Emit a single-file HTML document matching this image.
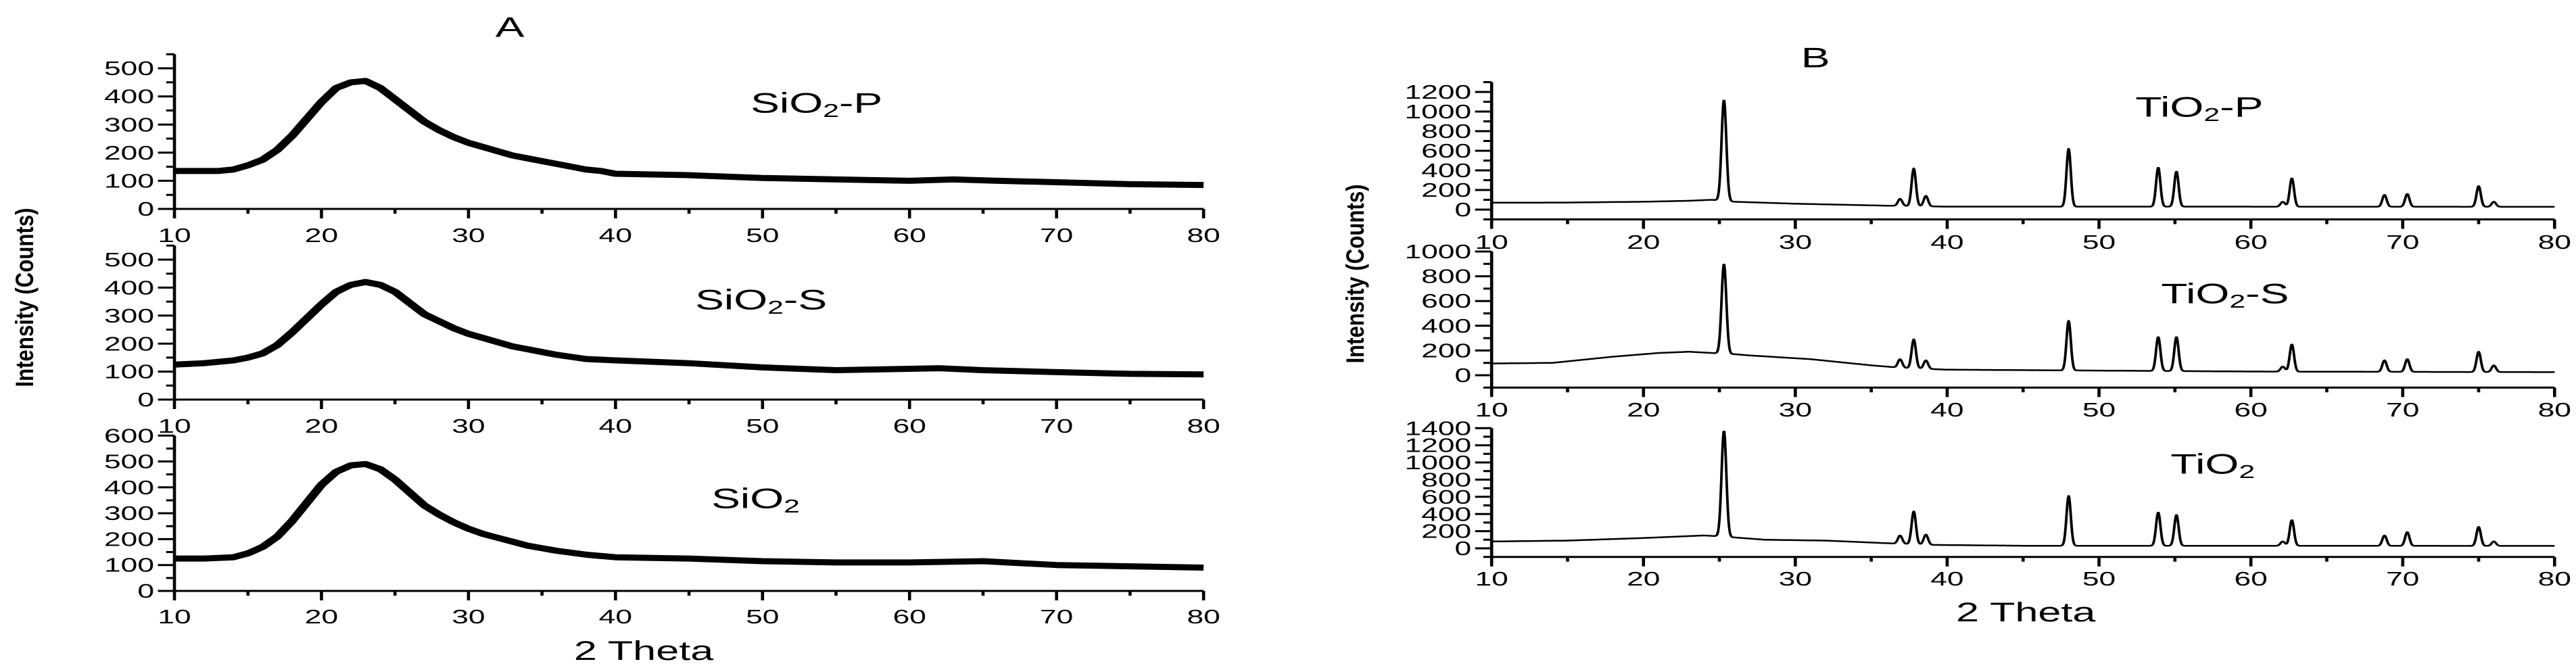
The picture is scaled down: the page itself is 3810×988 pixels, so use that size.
<!DOCTYPE html>
<html><head><meta charset="utf-8"><style>
html,body{margin:0;padding:0;background:#fff;}
svg{display:block;}
text{font-family:"Liberation Sans",Arial,sans-serif;fill:#000;}
</style></head><body>
<svg id="fig" width="3810" height="988" viewBox="0 0 2490 988" preserveAspectRatio="none" xmlns="http://www.w3.org/2000/svg"></svg>
<script>
// ---------- data ----------
var xTicks = [10,20,30,40,50,60,70,80];
var sioP_x = [10,11,12,13,14,15,16,17,18,19,20,21,22,23,24,25,26,27,28,29,30,31,32,33,34,35,36,37,38,39,40,45,50,55,60,63,66,70,75,80];
var sioP_y = [135,135,135,135,140,155,175,210,260,320,380,430,450,455,430,390,350,310,280,255,235,220,205,190,180,170,160,150,140,135,125,120,110,105,100,105,100,95,88,85];
var sioS_x = [10,12,14,15,16,17,18,19,20,21,22,23,24,25,26,27,28,29,30,31,32,33,34,35,36,38,40,45,50,55,60,62,65,70,75,80];
var sioS_y = [125,130,140,150,165,195,240,290,340,385,410,420,410,385,345,305,280,255,235,220,205,190,180,170,160,145,140,130,115,105,110,112,105,98,92,90];
var sio_x = [10,12,14,15,16,17,18,19,20,21,22,23,24,25,26,27,28,29,30,31,32,33,34,35,36,38,40,45,50,55,60,65,70,75,80];
var sio_y = [125,125,130,145,170,210,270,340,410,460,485,490,470,430,380,330,295,265,240,220,205,190,175,165,155,140,130,125,115,110,110,115,100,95,90];

var peakPos = [25.3,36.9,37.8,38.6,48.0,53.9,55.1,62.1,62.7,68.8,70.3,75.0,76.0];
var tioP_peaks = [1120,110,420,140,620,430,390,80,320,150,160,240,80];
var tioS_peaks = [900,130,290,120,440,310,310,70,250,120,130,190,80];
var tio_peaks  = [1370,150,430,160,610,420,390,80,330,150,190,250,80];
var tioP_bx = [10,15,20,23,24.5,26,30,33,36,40,50,60,80];
var tioP_by = [70,72,80,90,100,80,60,50,40,30,30,30,28];
var tioS_bx = [10,14,18,21,23,24.5,26,27,31,35,37,40,47,60,80];
var tioS_by = [95,100,150,180,190,180,170,160,130,80,60,45,40,30,25];
var tio_bx = [10,15,20,24,25,28,32,36,39,45,60,80];
var tio_by = [80,90,120,150,140,100,90,60,40,30,30,28];

// ---------- helpers ----------
var NS="http://www.w3.org/2000/svg", S=1.53;
var svg=document.getElementById('fig');
function el(tag,attrs,parent){var e=document.createElementNS(NS,tag);for(var k in attrs)e.setAttribute(k,attrs[k]);(parent||svg).appendChild(e);return e;}
function interp(xs,ys,x){if(x<=xs[0])return ys[0];for(var i=1;i<xs.length;i++){if(x<=xs[i]){var f=(x-xs[i-1])/(xs[i]-xs[i-1]);return ys[i-1]+f*(ys[i]-ys[i-1]);}}return ys[ys.length-1];}
function merge(a,b){var o={},k;for(k in a)o[k]=a[k];for(k in b)o[k]=b[k];return o;}

function panel(name,cfg){
  var g=el('g',{});
  
  
  function X(v){return (cfg.x0+(v-10)/70*(cfg.x1-cfg.x0))/S;}
  function Y(v){return cfg.zero-v*cfg.ppu;}
  var yBot=Y(cfg.ymin), yTop=Y(cfg.ymax);
  var ax=el('path',{d:'M'+(cfg.x0/S)+','+yTop+' V'+yBot+' H'+(cfg.x1/S),stroke:'#000','stroke-width':3,fill:'none'},g);
  
  
  var d='',v;
  for(v=10;v<=80;v+=5){var big=v%10===0;d+='M'+X(v)+','+yBot+' V'+(yBot+(big?14:7))+' ';}
  for(v=Math.ceil(cfg.ymin/cfg.minor)*cfg.minor;v<=cfg.ymax+1e-6;v+=cfg.minor){var bg=(v%cfg.major===0&&v>=0);d+='M'+(cfg.x0/S)+','+Y(v)+' H'+(cfg.x0/S-(bg?16:8))+' ';}
  var tk=el('path',{d:d,stroke:'#000','stroke-width':3,fill:'none'},g);
  
  
  xTicks.forEach(function(v){
    var t=el('text',{x:X(v),y:cfg.xlab,'font-size':29,'text-anchor':'middle','dominant-baseline':'central'},g);
    
    
    t.textContent=String(v);
  });
  for(v=0;v<=cfg.ymax+1e-6;v+=cfg.major){
    var t=el('text',{x:(cfg.x0-30)/S,y:Y(v),'font-size':29,'text-anchor':'end','dominant-baseline':'central'},g);
    
    
    t.textContent=String(v);
  }
  var pts=[];
  if(cfg.sx){for(var i=0;i<cfg.sx.length;i++)pts.push(X(cfg.sx[i])+','+Y(cfg.sy[i]));}
  else{
    for(var x=10;x<=80.0001;x+=0.04){var y=interp(cfg.bx,cfg.by,x);
      for(var j=0;j<peakPos.length;j++){var p=peakPos[j];var h=cfg.peaks[j]-interp(cfg.bx,cfg.by,p);var w=p<26?0.22:0.2;var z=(x-p)/w;y+=h*Math.exp(-z*z);}
      pts.push(X(x).toFixed(2)+','+Y(y).toFixed(1));}
  }
  var ln=el('polyline',{points:pts.join(' '),fill:'none',stroke:'#000','stroke-width':cfg.sw,'stroke-linejoin':'round'},g);
  
  
  var lb=el('text',{x:cfg.lx/S,y:cfg.ly,'font-size':42,'dominant-baseline':'central'},g);
  
  
  lb.appendChild(document.createTextNode(cfg.label[0]+'O'));
  var s1=el('tspan',{'font-size':28,dy:11},lb); s1.textContent='2';
  var s2=el('tspan',{dy:-11},lb); s2.textContent=cfg.label[1]||'\u200B';
}

var A={x0:258,x1:1780,sw:9,minor:50,major:100};
panel('panel-a-sio2-p',merge(A,{zero:309,ppu:0.416,ymin:0,ymax:550,xlab:348,sx:sioP_x,sy:sioP_y,lx:1110,ly:152,label:['Si','-P']}));
panel('panel-a-sio2-s',merge(A,{zero:591,ppu:0.414,ymin:0,ymax:550,xlab:630,sx:sioS_x,sy:sioS_y,lx:1028,ly:443,label:['Si','-S']}));
panel('panel-a-sio2',merge(A,{zero:874,ppu:0.383,ymin:0,ymax:600,xlab:912,sx:sio_x,sy:sio_y,lx:1052,ly:737,label:['Si','']}));
var B={x0:2206,x1:3778,sw:2.5,minor:100,major:200};
panel('panel-b-tio2-p',merge(B,{zero:310,ppu:0.145,ymin:-100,ymax:1300,xlab:358,bx:tioP_bx,by:tioP_by,peaks:tioP_peaks,lx:3158,ly:158,label:['Ti','-P']}));
panel('panel-b-tio2-s',merge(B,{zero:555,ppu:0.183,ymin:-100,ymax:1000,xlab:606,bx:tioS_bx,by:tioS_by,peaks:tioS_peaks,lx:3196,ly:434,label:['Ti','-S']}));
panel('panel-b-tio2',merge(B,{zero:811,ppu:0.127,ymin:-100,ymax:1400,xlab:856,bx:tio_bx,by:tio_by,peaks:tio_peaks,lx:3210,ly:686,label:['Ti','']}));

function addTitle(str,x,y,size,name,weight,tf){
  var t=el('text',{x:0,y:0,'font-size':size,'text-anchor':'middle','dominant-baseline':'central','font-weight':weight||'normal',transform:'translate('+(x/S)+','+y+')'+(tf||'')});
  
  
  t.textContent=str;
}
addTitle('A',754,40,42,'panel-a-title');
addTitle('B',2685,85,42,'panel-b-title');
addTitle('2 Theta',952,962,40,'panel-a-x-title');
addTitle('2 Theta',2996,905,40,'panel-b-x-title');
addTitle('Intensity (Counts)',37,440,24,'panel-a-y-title','bold',' rotate(-90) scale(1.3,1)');
addTitle('Intensity (Counts)',2005,405,24,'panel-b-y-title','bold',' rotate(-90) scale(1.3,1)');
</script>
</body></html>
